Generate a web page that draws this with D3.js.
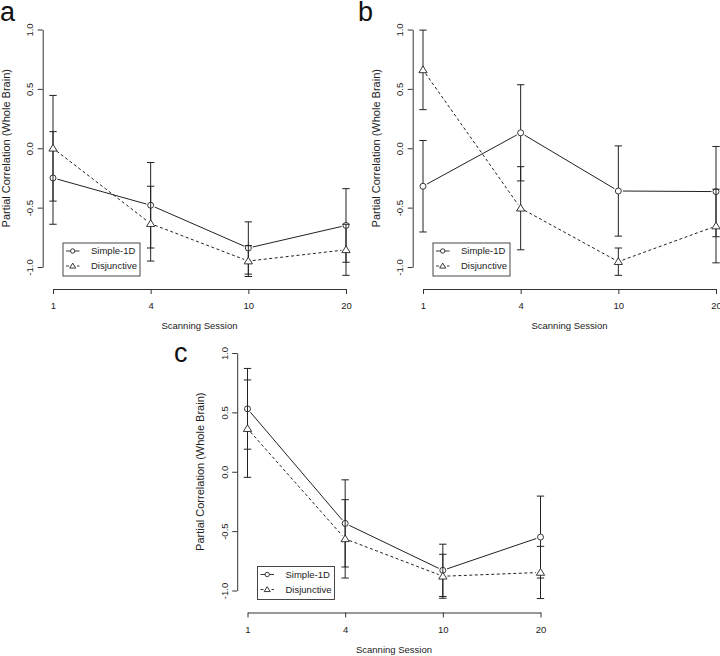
<!DOCTYPE html>
<html>
<head>
<meta charset="utf-8">
<script src="https://cdn.jsdelivr.net/npm/d3@7/dist/d3.min.js"></script>
<style>
  html, body { margin: 0; padding: 0; background: #fff; }
  svg { display: block; font-family: "Liberation Sans", Arial, Helvetica, sans-serif; }
</style>
</head>
<body>
<svg id="chart" width="720" height="656"></svg>
<script>
// ---------- data ----------
const sessions = ["1", "4", "10", "20"];
const yTicks = [-1.0, -0.5, 0.0, 0.5, 1.0];
const yTickLabels = ["-1.0", "-0.5", "0.0", "0.5", "1.0"];
const seriesNames = ["Simple-1D", "Disjunctive"];
const panelLetters = ["a", "b", "c"];

const aSimple    = [-0.25, -0.48, -0.84, -0.65];
const aSimpleErr = [0.39, 0.36, 0.22, 0.31];
const aDisj      = [0.00, -0.635, -0.95, -0.855];
const aDisjErr   = [0.445, 0.315, 0.13, 0.215];

const bSimple    = [-0.32, 0.13, -0.36, -0.365];
const bSimpleErr = [0.385, 0.405, 0.38, 0.38];
const bDisj      = [0.66, -0.505, -0.955, -0.655];
const bDisjErr   = [0.335, 0.35, 0.115, 0.31];

const cSimple    = [0.53, -0.435, -0.83, -0.55];
const cSimpleErr = [0.34, 0.367, 0.22, 0.345];
const cDisj      = [0.363, -0.565, -0.88, -0.848];
const cDisjErr   = [0.41, 0.33, 0.185, 0.22];

const xLabel = "Scanning Session";
const yLabel = "Partial Correlation (Whole Brain)";

// ---------- layout ----------
const panels = [
  { letter: panelLetters[0], ox: 0,     oy: 0,     simple: aSimple, simpleErr: aSimpleErr, disj: aDisj, disjErr: aDisjErr },
  { letter: panelLetters[1], ox: 370,   oy: 0,     simple: bSimple, simpleErr: bSimpleErr, disj: bDisj, disjErr: bDisjErr },
  { letter: panelLetters[2], ox: 194.5, oy: 323.5, simple: cSimple, simpleErr: cSimpleErr, disj: cDisj, disjErr: cDisjErr }
];
const letterPos = [[0, 21], [358, 21], [174, 362]];

const ink = "#222";
const axisInk = "#333";
const svg = d3.select("#chart");

panels.forEach((p, pi) => {
  const g = svg.append("g").attr("transform", `translate(${p.ox},${p.oy})`);
  const x = d3.scalePoint().domain(sessions).range([53, 346]).padding(0);
  const y = d3.scaleLinear().domain([-1, 1]).range([267, 29.5]);
  const yAxisX = 42.7, xAxisY = 289;

  // y axis
  const ya = g.append("g").attr("transform", `translate(${yAxisX},0)`)
    .call(d3.axisLeft(y).tickValues(yTicks).tickFormat((d, i) => yTickLabels[i]).tickSize(5).tickSizeOuter(0));
  ya.select(".domain").attr("stroke", axisInk);
  ya.selectAll(".tick line").attr("stroke", axisInk);
  ya.selectAll(".tick text")
    .attr("x", null).attr("dy", null)
    .attr("transform", "translate(-9.5,0) rotate(-90)")
    .attr("text-anchor", "middle")
    .attr("font-size", 9.5).attr("fill", ink)
    .attr("font-family", "Liberation Sans, Arial, sans-serif");

  // x axis
  const xa = g.append("g").attr("transform", `translate(0,${xAxisY})`)
    .call(d3.axisBottom(x).tickSize(5).tickSizeOuter(0));
  xa.select(".domain").attr("stroke", axisInk);
  xa.selectAll(".tick line").attr("stroke", axisInk);
  xa.selectAll(".tick text")
    .attr("y", 20).attr("dy", null)
    .attr("font-size", 9.5).attr("fill", ink)
    .attr("font-family", "Liberation Sans, Arial, sans-serif");

  // axis titles
  g.append("text").attr("x", (x.range()[0] + x.range()[1]) / 2).attr("y", xAxisY + 40)
    .attr("text-anchor", "middle").attr("font-size", 9.5).attr("fill", ink).text(xLabel);
  g.append("text")
    .attr("transform", `translate(${yAxisX - 33},${(y.range()[0] + y.range()[1]) / 2}) rotate(-90)`)
    .attr("text-anchor", "middle").attr("font-size", 11).attr("fill", ink).text(yLabel);

  const series = [
    { vals: p.simple, errs: p.simpleErr, dash: null, shape: "circle" },
    { vals: p.disj, errs: p.disjErr, dash: "3,2.5", shape: "triangle" }
  ];

  series.forEach(s => {
    const pts = sessions.map((c, i) => [x(c), y(s.vals[i])]);
    // error bars
    sessions.forEach((c, i) => {
      const cx = x(c), y1 = y(s.vals[i] + s.errs[i]), y2 = y(s.vals[i] - s.errs[i]);
      g.append("line").attr("x1", cx).attr("x2", cx).attr("y1", y1).attr("y2", y2)
        .attr("stroke", ink).attr("stroke-width", 1);
      [y1, y2].forEach(yy => g.append("line").attr("x1", cx - 3.7).attr("x2", cx + 3.7)
        .attr("y1", yy).attr("y2", yy).attr("stroke", ink).attr("stroke-width", 1));
    });
    // connecting segments with gaps (type = "b")
    for (let i = 0; i < pts.length - 1; i++) {
      const [x0, y0] = pts[i], [x1, y1] = pts[i + 1];
      const L = Math.hypot(x1 - x0, y1 - y0), gap = 4.5;
      const ux = (x1 - x0) / L, uy = (y1 - y0) / L;
      g.append("line")
        .attr("x1", x0 + ux * gap).attr("y1", y0 + uy * gap)
        .attr("x2", x1 - ux * gap).attr("y2", y1 - uy * gap)
        .attr("stroke", ink).attr("stroke-width", 1)
        .attr("stroke-dasharray", s.dash);
    }
    // symbols
    pts.forEach(([px, py]) => drawSymbol(g, s.shape, px, py, 3));
  });

  // legend
  const lg = g.append("g");
  lg.append("rect").attr("x", 63).attr("y", 243).attr("width", 77).attr("height", 33)
    .attr("fill", "#fff").attr("stroke", axisInk).attr("stroke-width", 0.9);
  const rows = [{ y: 251, dash: null, shape: "circle" }, { y: 266, dash: "3,2.5", shape: "triangle" }];
  rows.forEach((r, i) => {
    lg.append("line").attr("x1", 66).attr("x2", 79.5).attr("y1", r.y).attr("y2", r.y)
      .attr("stroke", ink).attr("stroke-width", 0.9).attr("stroke-dasharray", r.dash);
    drawSymbol(lg, r.shape, 72.7, r.y, 2.2);
    lg.append("text").attr("x", 91).attr("y", r.y + 3.3).attr("font-size", 9.5)
      .attr("fill", ink).text(seriesNames[i]);
  });
});

// panel letters
panels.forEach((p, i) => {
  svg.append("text").attr("x", letterPos[i][0]).attr("y", letterPos[i][1])
    .attr("font-size", 27).attr("fill", "#111").text(p.letter);
});

function drawSymbol(g, shape, px, py, r) {
  if (shape === "circle") {
    g.append("circle").attr("cx", px).attr("cy", py).attr("r", r)
      .attr("fill", "#fff").attr("stroke", ink).attr("stroke-width", 0.9);
  } else {
    const s = r * 1.25;
    g.append("path")
      .attr("d", `M${px},${py - s * 1.05}L${px + s * 1.1},${py + s * 0.75}L${px - s * 1.1},${py + s * 0.75}Z`)
      .attr("fill", "#fff").attr("stroke", ink).attr("stroke-width", 0.9);
  }
}
</script>
</body>
</html>
